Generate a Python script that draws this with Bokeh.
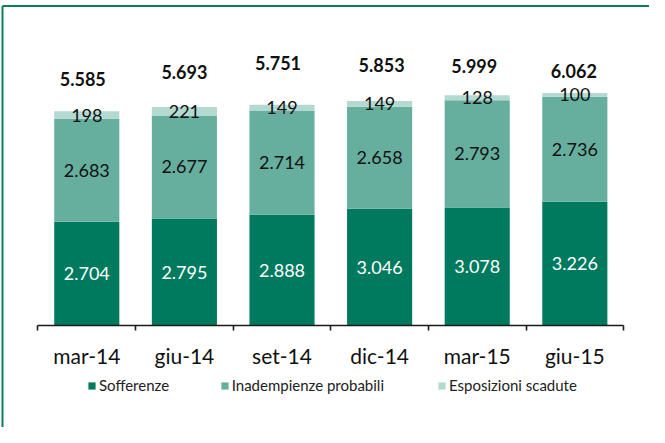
import numpy as np
from bokeh.plotting import figure
from bokeh.models import (ColumnDataSource, Range1d, LinearAxis, FixedTicker,
                          Legend, LegendItem)
from bokeh.core.properties import value
from bokeh.embed import file_html
from bokeh.resources import INLINE

# ---- data ----
categories = ["mar-14", "giu-14", "set-14", "dic-14", "mar-15", "giu-15"]
sofferenze = [2704, 2795, 2888, 3046, 3078, 3226]
inadempienze = [2683, 2677, 2714, 2658, 2793, 2736]
esposizioni = [198, 221, 149, 149, 128, 100]
series_names = ["Sofferenze", "Inadempienze probabili", "Esposizioni scadute"]

# ---- style / layout ----
colors = ["#007A5E", "#66AE9E", "#B3D9D0"]
border_color = "#0B7D60"
FONT = "Lato"
W, H = 649, 427
y_start, y_end = -2651, 8469
x_start, x_end = -0.384, 6.265
ux = W / (x_end - x_start)      # px per x unit
uy = H / (y_end - y_start)      # px per y unit
total_label_offsets_px = [32, 35, 42, 36, 29, 22]
total_label_dx_px = [-4, 0, -4, 2, -3, -1]


def fmt(v):
    return f"{v:,}".replace(",", ".")


xs = np.arange(len(categories)) + 0.5
s = np.array(sofferenze)
i_ = np.array(inadempienze)
e = np.array(esposizioni)
totals = s + i_ + e

p = figure(width=W, height=H, x_range=Range1d(x_start, x_end),
           y_range=Range1d(y_start, y_end), x_axis_type=None, y_axis_type=None,
           toolbar_location=None, output_backend="svg", min_border=0,
           min_border_left=0, min_border_right=0, min_border_top=0,
           min_border_bottom=0, title=None)
p.outline_line_color = None
p.background_fill_color = "white"
p.border_fill_color = "white"

src = ColumnDataSource(dict(x=xs, sofferenze=s, inadempienze=i_, esposizioni=e))
rs = p.vbar_stack(["sofferenze", "inadempienze", "esposizioni"], x="x",
                  width=0.667, color=colors, line_color=None, source=src)

# segment labels
lab = ColumnDataSource(dict(
    x=np.concatenate([xs, xs, xs]),
    y=np.concatenate([s / 2, s + i_ / 2, s + i_ + e / 2]),
    t=[fmt(v) for v in list(s) + list(i_) + list(e)],
    c=["white"] * len(xs) + ["#111111"] * (2 * len(xs)),
))
p.text(x="x", y="y", text="t", text_color="c", source=lab,
       text_align="center", text_baseline="middle",
       text_font=value(FONT), text_font_size="18px")

# totals
tot = ColumnDataSource(dict(
    x=xs + np.array(total_label_dx_px) / ux,
    y=totals + np.array(total_label_offsets_px) / uy,
    t=[fmt(v) for v in totals],
))
p.text(x="x", y="y", text="t", source=tot, text_color="#111111",
       text_align="center", text_baseline="middle", text_font=value(FONT),
       text_font_size="18px", text_font_style="bold")

# category axis at y=0
ax = LinearAxis(fixed_location=0, bounds=(0, len(categories)))
ax.ticker = FixedTicker(ticks=list(xs), minor_ticks=list(range(len(categories) + 1)))
ax.major_label_overrides = {float(x): c for x, c in zip(xs, categories)}
ax.axis_line_color = "#1a1a1a"
ax.axis_line_width = 1.6
ax.major_tick_line_color = None
ax.major_tick_out = 0
ax.major_tick_in = 0
ax.minor_tick_line_color = "#1a1a1a"
ax.minor_tick_line_width = 1.6
ax.minor_tick_out = 5
ax.minor_tick_in = 0
ax.major_label_standoff = 12
ax.major_label_text_font = FONT
ax.major_label_text_font_size = "21px"
ax.major_label_text_color = "#111111"
p.add_layout(ax, "below")

# frame border (left and top green lines)
bx = x_start + 2 / ux
by = y_end - 5.5 / uy
p.segment(x0=[bx, bx], y0=[by, by], x1=[bx, x_end], y1=[y_start, by],
          line_color=border_color, line_width=2)

# legends
leg_x = [87, 219.7, 437]
for r, name, lx in zip(rs, series_names, leg_x):
    lg = Legend(items=[LegendItem(label=name, renderers=[r])],
                location=(lx, 33), orientation="horizontal",
                padding=0, margin=0, spacing=0, glyph_width=9, glyph_height=9,
                label_standoff=3, label_text_font=FONT,
                label_text_font_size="15px", label_text_color="#222222",
                border_line_color=None, background_fill_alpha=0)
    p.add_layout(lg, "center")

open("out.html", "w").write(file_html(p, INLINE))
